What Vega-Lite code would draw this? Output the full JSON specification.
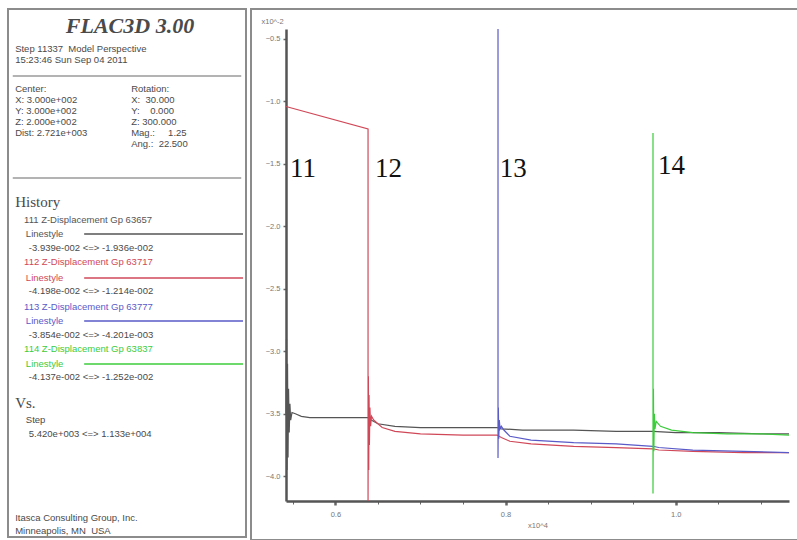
{
  "$schema": "https://vega.github.io/schema/vega-lite/v6.json",
  "background": "white",
  "padding": {"left": 7, "top": 8, "right": 0, "bottom": 0},
  "spacing": 3,
  "config": {
    "view": {"stroke": "#8c8c8c", "strokeWidth": 2},
    "axis": {"labelFont": "Liberation Sans", "titleFont": "Liberation Sans", "grid": false}
  },
  "datasets": {
    "panel": [
      {"t": "FLAC3D 3.00", "c": 20.5, "l": 1.55, "k": "title", "s": "txt"},
      {"t": "Step 11337\u00a0 Model Perspective", "c": 1.2, "l": 3.64, "k": "body", "s": "txt"},
      {"t": "15:23:46 Sun Sep 04 2011", "c": 1.2, "l": 4.64, "k": "body", "s": "txt"},
      {"t": "Center:", "c": 1.2, "l": 7.27, "k": "body", "s": "txt"},
      {"t": "Rotation:", "c": 20.7, "l": 7.27, "k": "body", "s": "txt"},
      {"t": "X: 3.000e+002", "c": 1.2, "l": 8.27, "k": "body", "s": "txt"},
      {"t": "X:\u00a0 30.000", "c": 20.7, "l": 8.27, "k": "body", "s": "txt"},
      {"t": "Y: 3.000e+002", "c": 1.2, "l": 9.27, "k": "body", "s": "txt"},
      {"t": "Y:\u00a0\u00a0\u00a0 0.000", "c": 20.7, "l": 9.27, "k": "body", "s": "txt"},
      {"t": "Z: 2.000e+002", "c": 1.2, "l": 10.27, "k": "body", "s": "txt"},
      {"t": "Z: 300.000", "c": 20.7, "l": 10.27, "k": "body", "s": "txt"},
      {"t": "Dist: 2.721e+003", "c": 1.2, "l": 11.27, "k": "body", "s": "txt"},
      {"t": "Mag.:\u00a0\u00a0\u00a0\u00a0 1.25", "c": 20.7, "l": 11.27, "k": "body", "s": "txt"},
      {"t": "Ang.:\u00a0 22.500", "c": 20.7, "l": 12.27, "k": "body", "s": "txt"},
      {"t": "History", "c": 1.2, "l": 17.55, "k": "head", "s": "txt"},
      {"t": "111 Z-Displacement Gp 63657", "c": 2.7, "l": 19.2, "k": "body", "s": "111"},
      {"t": "Linestyle", "c": 3.0, "l": 20.45, "k": "body", "s": "111"},
      {"t": "-3.939e-002 <=> -1.936e-002", "c": 3.5, "l": 21.7, "k": "body", "s": "txt"},
      {"t": "112 Z-Displacement Gp 63717", "c": 2.7, "l": 23.0, "k": "body", "s": "112"},
      {"t": "Linestyle", "c": 3.0, "l": 24.45, "k": "body", "s": "112"},
      {"t": "-4.198e-002 <=> -1.214e-002", "c": 3.5, "l": 25.6, "k": "body", "s": "txt"},
      {"t": "113 Z-Displacement Gp 63777", "c": 2.7, "l": 27.1, "k": "body", "s": "113"},
      {"t": "Linestyle", "c": 3.0, "l": 28.36, "k": "body", "s": "113"},
      {"t": "-3.854e-002 <=> -4.201e-003", "c": 3.5, "l": 29.6, "k": "body", "s": "txt"},
      {"t": "114 Z-Displacement Gp 63837", "c": 2.7, "l": 30.9, "k": "body", "s": "114"},
      {"t": "Linestyle", "c": 3.0, "l": 32.27, "k": "body", "s": "114"},
      {"t": "-4.137e-002 <=> -1.252e-002", "c": 3.5, "l": 33.45, "k": "body", "s": "txt"},
      {"t": "Vs.", "c": 1.2, "l": 35.8, "k": "head", "s": "txt"},
      {"t": "Step", "c": 3.0, "l": 37.36, "k": "body", "s": "txt"},
      {"t": "5.420e+003 <=> 1.133e+004", "c": 3.5, "l": 38.6, "k": "body", "s": "txt"},
      {"t": "Itasca Consulting Group, Inc.", "c": 1.2, "l": 46.3, "k": "body", "s": "txt"},
      {"t": "Minneapolis, MN\u00a0 USA", "c": 1.2, "l": 47.45, "k": "body", "s": "txt"}
    ],
    "rules": [
      {"c": 0.8, "c2": 39.2, "l": 6.1, "s": "sep"},
      {"c": 0.8, "c2": 39.2, "l": 15.36, "s": "sep"},
      {"c": 12.8, "c2": 39.5, "l": 20.45, "s": "111"},
      {"c": 12.8, "c2": 39.5, "l": 24.45, "s": "112"},
      {"c": 12.8, "c2": 39.5, "l": 28.36, "s": "113"},
      {"c": 12.8, "c2": 39.5, "l": 32.27, "s": "114"}
    ],
    "hist": [
      {"s": "111", "i": 0, "x": 5420, "y": -3.50},
      {"s": "111", "i": 1, "x": 5426, "y": -2.90},
      {"s": "111", "i": 2, "x": 5432, "y": -3.95},
      {"s": "111", "i": 3, "x": 5438, "y": -3.10},
      {"s": "111", "i": 4, "x": 5444, "y": -3.85},
      {"s": "111", "i": 5, "x": 5450, "y": -3.30},
      {"s": "111", "i": 6, "x": 5458, "y": -3.65},
      {"s": "111", "i": 7, "x": 5466, "y": -3.42},
      {"s": "111", "i": 8, "x": 5475, "y": -3.55},
      {"s": "111", "i": 9, "x": 5490, "y": -3.49},
      {"s": "111", "i": 10, "x": 5530, "y": -3.50},
      {"s": "111", "i": 11, "x": 5600, "y": -3.52},
      {"s": "111", "i": 12, "x": 5700, "y": -3.53},
      {"s": "111", "i": 13, "x": 6000, "y": -3.53},
      {"s": "111", "i": 14, "x": 6380, "y": -3.53},
      {"s": "111", "i": 15, "x": 6420, "y": -3.55},
      {"s": "111", "i": 16, "x": 6500, "y": -3.58},
      {"s": "111", "i": 17, "x": 6700, "y": -3.60},
      {"s": "111", "i": 18, "x": 7000, "y": -3.61},
      {"s": "111", "i": 19, "x": 7500, "y": -3.61},
      {"s": "111", "i": 20, "x": 7900, "y": -3.61},
      {"s": "111", "i": 21, "x": 7950, "y": -3.62},
      {"s": "111", "i": 22, "x": 8200, "y": -3.63},
      {"s": "111", "i": 23, "x": 8800, "y": -3.63},
      {"s": "111", "i": 24, "x": 9300, "y": -3.64},
      {"s": "111", "i": 25, "x": 9730, "y": -3.64},
      {"s": "111", "i": 26, "x": 10000, "y": -3.65},
      {"s": "111", "i": 27, "x": 10500, "y": -3.65},
      {"s": "111", "i": 28, "x": 11000, "y": -3.66},
      {"s": "111", "i": 29, "x": 11330, "y": -3.66},
      {"s": "112", "i": 0, "x": 5420, "y": -1.04},
      {"s": "112", "i": 1, "x": 6384, "y": -1.22},
      {"s": "112", "i": 2, "x": 6384, "y": -4.198},
      {"s": "112", "i": 3, "x": 6388, "y": -3.20},
      {"s": "112", "i": 4, "x": 6392, "y": -3.95},
      {"s": "112", "i": 5, "x": 6396, "y": -3.35},
      {"s": "112", "i": 6, "x": 6400, "y": -3.75},
      {"s": "112", "i": 7, "x": 6406, "y": -3.45},
      {"s": "112", "i": 8, "x": 6414, "y": -3.60},
      {"s": "112", "i": 9, "x": 6425, "y": -3.52},
      {"s": "112", "i": 10, "x": 6450, "y": -3.55},
      {"s": "112", "i": 11, "x": 6550, "y": -3.61},
      {"s": "112", "i": 12, "x": 6700, "y": -3.64},
      {"s": "112", "i": 13, "x": 7000, "y": -3.66},
      {"s": "112", "i": 14, "x": 7500, "y": -3.67},
      {"s": "112", "i": 15, "x": 7900, "y": -3.67},
      {"s": "112", "i": 16, "x": 7950, "y": -3.69},
      {"s": "112", "i": 17, "x": 8050, "y": -3.72},
      {"s": "112", "i": 18, "x": 8300, "y": -3.74},
      {"s": "112", "i": 19, "x": 8800, "y": -3.76},
      {"s": "112", "i": 20, "x": 9300, "y": -3.77},
      {"s": "112", "i": 21, "x": 9730, "y": -3.78},
      {"s": "112", "i": 22, "x": 9800, "y": -3.79},
      {"s": "112", "i": 23, "x": 10200, "y": -3.80},
      {"s": "112", "i": 24, "x": 10800, "y": -3.81},
      {"s": "112", "i": 25, "x": 11330, "y": -3.81},
      {"s": "113", "i": 0, "x": 7911, "y": -0.42},
      {"s": "113", "i": 1, "x": 7911, "y": -3.854},
      {"s": "113", "i": 2, "x": 7915, "y": -3.45},
      {"s": "113", "i": 3, "x": 7920, "y": -3.70},
      {"s": "113", "i": 4, "x": 7926, "y": -3.55},
      {"s": "113", "i": 5, "x": 7935, "y": -3.62},
      {"s": "113", "i": 6, "x": 7950, "y": -3.60},
      {"s": "113", "i": 7, "x": 7980, "y": -3.63},
      {"s": "113", "i": 8, "x": 8050, "y": -3.68},
      {"s": "113", "i": 9, "x": 8300, "y": -3.71},
      {"s": "113", "i": 10, "x": 8800, "y": -3.73},
      {"s": "113", "i": 11, "x": 9300, "y": -3.74},
      {"s": "113", "i": 12, "x": 9730, "y": -3.76},
      {"s": "113", "i": 13, "x": 9800, "y": -3.77},
      {"s": "113", "i": 14, "x": 10200, "y": -3.79},
      {"s": "113", "i": 15, "x": 10800, "y": -3.80},
      {"s": "113", "i": 16, "x": 11330, "y": -3.81},
      {"s": "114", "i": 0, "x": 9732, "y": -1.252},
      {"s": "114", "i": 1, "x": 9732, "y": -4.137},
      {"s": "114", "i": 2, "x": 9737, "y": -3.30},
      {"s": "114", "i": 3, "x": 9742, "y": -3.80},
      {"s": "114", "i": 4, "x": 9748, "y": -3.50},
      {"s": "114", "i": 5, "x": 9755, "y": -3.62},
      {"s": "114", "i": 6, "x": 9770, "y": -3.56},
      {"s": "114", "i": 7, "x": 9820, "y": -3.60},
      {"s": "114", "i": 8, "x": 9950, "y": -3.63},
      {"s": "114", "i": 9, "x": 10200, "y": -3.65},
      {"s": "114", "i": 10, "x": 10600, "y": -3.66},
      {"s": "114", "i": 11, "x": 11000, "y": -3.66},
      {"s": "114", "i": 12, "x": 11330, "y": -3.67}
    ],
    "labels": [
      {"lab": "11", "x": 5467, "y": -1.54},
      {"lab": "12", "x": 6466, "y": -1.54},
      {"lab": "13", "x": 7930, "y": -1.54},
      {"lab": "14", "x": 9791, "y": -1.52}
    ]
  },
  "hconcat": [
    {
      "width": 238,
      "height": 528,
      "encoding": {
        "x": {"field": "c", "type": "quantitative", "scale": {"domain": [0, 40], "nice": false, "zero": false}, "axis": null},
        "y": {"field": "l", "type": "quantitative", "scale": {"domain": [0, 48], "nice": false, "zero": false, "reverse": true}, "axis": null},
        "color": {"field": "s", "type": "nominal", "legend": null,
          "scale": {"domain": ["111", "112", "113", "114", "txt", "sep"], "range": ["#555555", "#d04858", "#5a5ac8", "#3ccc3c", "#4a4a4a", "#9a9a9a"]}}
      },
      "layer": [
        {"data": {"name": "rules"}, "mark": {"type": "rule", "strokeWidth": 1.5}, "encoding": {"x2": {"field": "c2"}}},
        {"data": {"name": "panel"}, "transform": [{"filter": "datum.k == 'title'"}],
          "mark": {"type": "text", "font": "Liberation Serif", "fontSize": 22, "fontWeight": "bold", "fontStyle": "italic", "align": "center", "baseline": "middle"},
          "encoding": {"text": {"field": "t"}}},
        {"data": {"name": "panel"}, "transform": [{"filter": "datum.k == 'head'"}],
          "mark": {"type": "text", "font": "Liberation Serif", "fontSize": 15, "align": "left", "baseline": "middle"},
          "encoding": {"text": {"field": "t"}}},
        {"data": {"name": "panel"}, "transform": [{"filter": "datum.k == 'body'"}],
          "mark": {"type": "text", "font": "Liberation Sans", "fontSize": 9.5, "align": "left", "baseline": "middle"},
          "encoding": {"text": {"field": "t"}}}
      ]
    },
    {
      "width": 548,
      "height": 531,
      "encoding": {
        "x": {"field": "x", "type": "quantitative",
          "scale": {"domain": [5420, 11330], "range": [35, 538], "nice": false, "zero": false},
          "axis": {"values": [5500, 6000, 6500, 7000, 7500, 8000, 8500, 9000, 9500, 10000, 10500, 11000],
            "labelExpr": "datum.value % 2000 == 0 ? format(datum.value / 10000, '.1f') : ''",
            "labelOverlap": false, "labelFlush": false,
            "offset": -39, "title": "x10^4", "titleFontSize": 7.5, "titleFontWeight": "normal", "titleColor": "#777777", "titlePadding": 4,
            "domainColor": "#555555", "domainWidth": 2.5,
            "tickColor": "#666666",
            "tickSize": {"condition": {"test": "datum.value % 2000 == 0", "value": 4}, "value": 3},
            "tickWidth": {"condition": {"test": "datum.value % 2000 == 0", "value": 2.5}, "value": 1},
            "labelFontSize": 7.5, "labelColor": "#777777", "labelPadding": 5}},
        "y": {"field": "y", "type": "quantitative",
          "scale": {"domain": [-4.198, -0.42], "range": [492, 20], "nice": false, "zero": false},
          "axis": {"values": [-0.5, -1, -1.5, -2, -2.5, -3, -3.5, -4], "format": ".1f",
            "offset": -35, "title": "x10^-2", "titleAngle": 0, "titleX": -25, "titleY": 12, "titleAlign": "left", "titleBaseline": "middle",
            "titleFontSize": 7.5, "titleFontWeight": "normal", "titleColor": "#777777",
            "domainColor": "#555555", "domainWidth": 2.5, "tickColor": "#666666", "tickSize": 3, "tickWidth": 1.5,
            "labelFontSize": 7.5, "labelColor": "#777777", "labelPadding": 3}}
      },
      "layer": [
        {"data": {"name": "hist"}, "mark": {"type": "line", "strokeWidth": 1.2},
          "encoding": {
            "color": {"field": "s", "type": "nominal", "legend": null,
              "scale": {"domain": ["111", "112", "113", "114", "txt", "sep"], "range": ["#555555", "#d04858", "#5a5ac8", "#3ccc3c", "#4a4a4a", "#9a9a9a"]}},
            "order": {"field": "i", "type": "quantitative"}}},
        {"data": {"name": "labels"}, "mark": {"type": "text", "font": "Liberation Serif", "fontSize": 27, "align": "left", "baseline": "middle", "color": "#111111"},
          "encoding": {"text": {"field": "lab"}}}
      ]
    }
  ]
}
